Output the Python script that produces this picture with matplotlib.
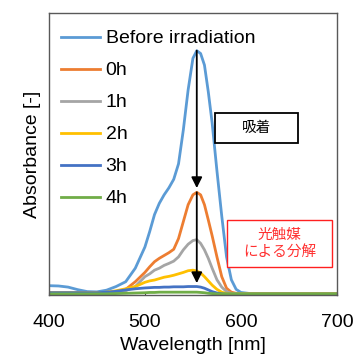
import numpy as np
import matplotlib
matplotlib.use('Agg')
import matplotlib.pyplot as plt
from matplotlib.patches import Rectangle

plt.rcParams['font.family'] = ['Liberation Sans', 'Noto Sans CJK JP', 'DejaVu Sans']

# wavelength grid [nm] and absorbance
wl = [400, 410, 420, 430, 440, 450, 460, 470, 480, 490, 500, 505, 510, 515, 520,
      525, 530, 535, 540, 545, 550, 554, 558, 562, 566, 570, 575, 580, 585, 590,
      595, 600, 610, 620, 650, 700]

before = [0.033, 0.032, 0.028, 0.019, 0.012, 0.011, 0.017, 0.030, 0.047, 0.095, 0.170, 0.225, 0.285, 0.325, 0.355,
          0.380, 0.410, 0.465, 0.585, 0.727, 0.839, 0.866, 0.856, 0.815, 0.720, 0.610, 0.440, 0.280, 0.135, 0.054,
          0.020, 0.009, 0.005, 0.004, 0.004, 0.004]
h0 = [0.008, 0.008, 0.008, 0.008, 0.008, 0.008, 0.008, 0.012, 0.020, 0.047, 0.080, 0.100, 0.118, 0.130, 0.140,
      0.150, 0.162, 0.200, 0.260, 0.320, 0.355, 0.364, 0.355, 0.320, 0.266, 0.210, 0.135, 0.065, 0.024, 0.010,
      0.006, 0.005, 0.005, 0.005, 0.005, 0.005]
h1 = [0.008, 0.008, 0.008, 0.008, 0.008, 0.008, 0.008, 0.010, 0.015, 0.030, 0.065, 0.075, 0.088, 0.095, 0.105,
      0.112, 0.120, 0.135, 0.160, 0.180, 0.193, 0.196, 0.183, 0.160, 0.130, 0.095, 0.054, 0.028, 0.012, 0.006,
      0.005, 0.005, 0.005, 0.005, 0.005, 0.005]
h2 = [0.008, 0.008, 0.008, 0.008, 0.008, 0.008, 0.010, 0.015, 0.022, 0.030, 0.045, 0.050, 0.053, 0.058, 0.063,
      0.066, 0.070, 0.075, 0.080, 0.086, 0.088, 0.085, 0.078, 0.065, 0.050, 0.035, 0.020, 0.010, 0.005, 0.004,
      0.004, 0.004, 0.004, 0.004, 0.004, 0.004]
h3 = [0.008, 0.008, 0.008, 0.008, 0.008, 0.008, 0.010, 0.013, 0.018, 0.022, 0.025, 0.026, 0.027, 0.027, 0.028,
      0.028, 0.029, 0.029, 0.029, 0.030, 0.030, 0.030, 0.028, 0.024, 0.018, 0.012, 0.007, 0.004, 0.003, 0.003,
      0.003, 0.003, 0.003, 0.003, 0.003, 0.003]
h4 = [0.004, 0.004, 0.004, 0.004, 0.004, 0.004, 0.004, 0.005, 0.006, 0.007, 0.008, 0.009, 0.009, 0.010, 0.010,
      0.010, 0.010, 0.010, 0.010, 0.010, 0.010, 0.010, 0.009, 0.008, 0.006, 0.005, 0.004, 0.004, 0.004, 0.004,
      0.004, 0.004, 0.004, 0.004, 0.004, 0.004]

labels = ['Before irradiation', '0h', '1h', '2h', '3h', '4h']
colors = ['#5B9BD5', '#ED7D31', '#A5A5A5', '#FFC000', '#4472C4', '#70AD47']
series = [before, h0, h1, h2, h3, h4]

fig = plt.figure(figsize=(3.54, 3.58), dpi=100)
ax = fig.add_axes([0.138, 0.176, 0.814, 0.788])

for y, c, lab in zip(series, colors, labels):
    ax.plot(wl, y, color=c, lw=2.0, label=lab)

ax.set_xlim(400, 700)
ax.set_ylim(0, 1.0)
ax.set_xticks([400, 500, 600, 700])
ax.set_yticks([])
ax.tick_params(axis='x', direction='in', length=2, labelsize=14, pad=14, color='#404040')
ax.set_xlabel('Wavelength [nm]', fontsize=14, labelpad=4)
ax.set_ylabel('Absorbance [-]', fontsize=14, labelpad=6)
for s in ax.spines.values():
    s.set_color('#595959')
    s.set_linewidth(1.0)

# arrows: blue peak -> orange peak -> 3h level
pk = int(np.argmax(before))
x_arr = wl[pk]
arr = dict(arrowstyle='-|>', color='black', lw=1.3, mutation_scale=16, shrinkA=0, shrinkB=0)
ax.annotate('', xy=(x_arr, h0[pk] + 0.015), xytext=(x_arr, before[pk]), arrowprops=arr)
ax.annotate('', xy=(x_arr, h3[pk] + 0.012), xytext=(x_arr, h0[pk]), arrowprops=arr)

# text boxes
ax.add_patch(Rectangle((0.576, 0.539), 0.289, 0.106, transform=ax.transAxes,
                       fill=True, facecolor='white', edgecolor='black', lw=1.3, zorder=5))
ax.text(0.72, 0.592, '吸着', transform=ax.transAxes, ha='center', va='center',
        fontsize=10.5, zorder=6)
ax.add_patch(Rectangle((0.618, 0.099), 0.365, 0.167, transform=ax.transAxes,
                       fill=True, facecolor='white', edgecolor='#FF2020', lw=1.0, zorder=5))
ax.text(0.80, 0.183, '光触媒\nによる分解', transform=ax.transAxes, ha='center', va='center',
        fontsize=10.5, color='#FF3030', linespacing=1.2, zorder=6)

ax.legend(loc='upper left', bbox_to_anchor=(0.042, 0.94), frameon=False, fontsize=14,
          borderpad=0, borderaxespad=0, handlelength=2.0, handletextpad=0.3, labelspacing=0.74)

fig.savefig('out.png', dpi=100)
